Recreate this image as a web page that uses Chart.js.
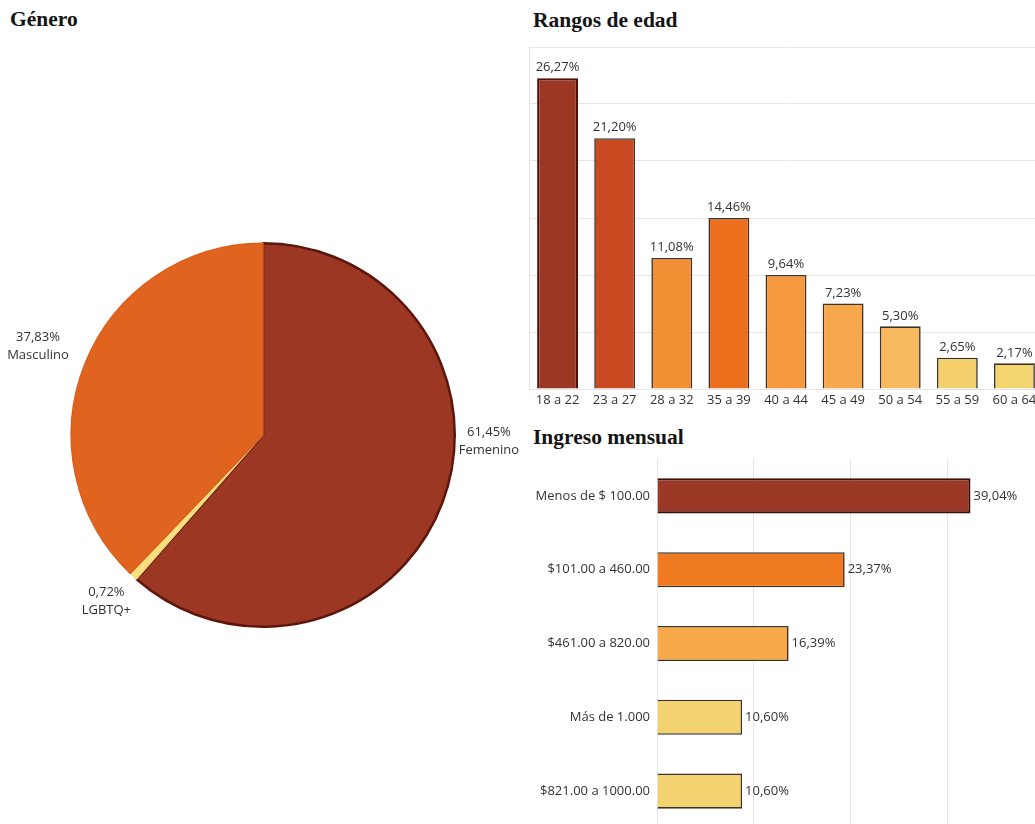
<!DOCTYPE html>
<html lang="es">
<head>
<meta charset="utf-8">
<title>Perfil de encuestados</title>
<script src="https://cdn.jsdelivr.net/npm/chart.js@4.4.1/dist/chart.umd.min.js"></script>
<style>
  html, body { margin: 0; padding: 0; width: 1035px; height: 824px; overflow: hidden; background: #fff; }
  .titulo { position: absolute; font-family: "Liberation Serif", "DejaVu Serif", serif; font-weight: bold;
            font-size: 21.5px; line-height: 22px; color: #141414; white-space: nowrap; }
  canvas { position: absolute; display: block; }
</style>
</head>
<body>
<div class="titulo" style="left:10px; top:8px;">Género</div>
<div class="titulo" style="left:533px; top:9px;">Rangos de edad</div>
<div class="titulo" style="left:533px; top:426px;">Ingreso mensual</div>

<canvas id="genero" width="526" height="790" style="left:0px; top:40px;"></canvas>
<canvas id="edad" width="514" height="367" style="left:529px; top:42px;"></canvas>
<canvas id="ingreso" width="514" height="372" style="left:530px; top:456px;"></canvas>

<script>
// ---- Género ----
const generoLabels = ['Femenino', 'LGBTQ+', 'Masculino'];
const generoValues = [61.45, 0.72, 37.83];
const generoColors = ['#9b3723', '#f7df7e', '#e06320'];
const generoBorders = ['#5e160c', '#f2d774', '#d95e1c'];

// ---- Rangos de edad ----
const edadLabels = ['18 a 22', '23 a 27', '28 a 32', '35 a 39', '40 a 44', '45 a 49', '50 a 54', '55 a 59', '60 a 64'];
const edadValues = [26.27, 21.20, 11.08, 14.46, 9.64, 7.23, 5.30, 2.65, 2.17];
const edadColors = ['#9b3723', '#c94a21', '#f39036', '#ec6f1e', '#f4993e', '#f7a84d', '#f8b85d', '#f4d06c', '#f3d570'];

// ---- Ingreso mensual ----
const ingresoLabels = ['Menos de $ 100.00', '$101.00 a 460.00', '$461.00 a 820.00', 'Más de 1.000', '$821.00 a 1000.00'];
const ingresoValues = [39.04, 23.37, 16.39, 10.60, 10.60];
const ingresoColors = ['#9c3826', '#f07a22', '#f8a94a', '#f3d36f', '#f3d36f'];

// Gridlines follow whole-response steps of the survey sample
const totalRespuestas = 415;
const edadPaso = 20, edadMaxResp = 120;
const ingresoPaso = 50, ingresoMaxResp = 200;

const FONT = '"Open Sans", "DejaVu Sans", sans-serif';
const TEXT = '#333333';
const fmt = v => v.toFixed(2).replace('.', ',') + '%';

Chart.defaults.font.family = FONT;
Chart.defaults.color = TEXT;

const pct = r => r / totalRespuestas * 100;
const fixedTicks = (paso, max) => scale => {
  const t = [];
  for (let r = 0; r <= max; r += paso) t.push({ value: pct(r) });
  scale.ticks = t;
};

// value labels next to bars
const barLabels = {
  id: 'barLabels',
  afterDatasetsDraw(chart) {
    const ctx = chart.ctx;
    const horizontal = chart.options.indexAxis === 'y';
    const meta = chart.getDatasetMeta(0);
    const data = chart.data.datasets[0].data;
    ctx.save();
    ctx.font = '13px ' + FONT;
    ctx.fillStyle = TEXT;
    meta.data.forEach((bar, i) => {
      if (horizontal) {
        ctx.textAlign = 'left'; ctx.textBaseline = 'middle';
        ctx.fillText(fmt(data[i]), bar.x + 3, bar.y);
      } else {
        ctx.textAlign = 'center'; ctx.textBaseline = 'bottom';
        ctx.fillText(fmt(data[i]), bar.x, bar.y - 4);
      }
    });
    ctx.restore();
  }
};

// slice labels outside the pie
const pieOffsets = [[9, -75], [0, -5], [-10, -2]];
const pieLabels = {
  id: 'pieLabels',
  afterDatasetsDraw(chart) {
    const ctx = chart.ctx;
    const meta = chart.getDatasetMeta(0);
    ctx.save();
    ctx.font = '13px ' + FONT;
    ctx.fillStyle = TEXT;
    ctx.textAlign = 'center';
    ctx.textBaseline = 'middle';
    meta.data.forEach((arc, i) => {
      const mid = (arc.startAngle + arc.endAngle) / 2;
      const rr = arc.outerRadius + 40;
      const x = arc.x + rr * Math.cos(mid) + pieOffsets[i][0];
      const y = arc.y + rr * Math.sin(mid) + pieOffsets[i][1];
      ctx.fillText(fmt(generoValues[i]), x, y - 9);
      ctx.fillText(generoLabels[i], x, y + 9);
    });
    ctx.restore();
  }
};

new Chart(document.getElementById('genero'), {
  type: 'pie',
  data: {
    labels: generoLabels,
    datasets: [{ data: generoValues, backgroundColor: generoColors, borderColor: generoBorders, borderWidth: [2.5, 1, 1.5] }]
  },
  options: {
    responsive: false, animation: false, devicePixelRatio: 1,
    layout: { padding: 70 },
    plugins: { legend: { display: false }, tooltip: { enabled: false } }
  },
  plugins: [pieLabels]
});

new Chart(document.getElementById('edad'), {
  type: 'bar',
  data: {
    labels: edadLabels,
    datasets: [{
      data: edadValues, backgroundColor: edadColors,
      borderColor: edadColors.map((c, i) => i === 0 ? '#4f1208' : '#3e3128'),
      borderWidth: edadColors.map((c, i) => i === 0 ? 2.2 : 1.6),
      categoryPercentage: 1, barPercentage: 0.716
    }]
  },
  options: {
    responsive: false, animation: false, devicePixelRatio: 1,
    layout: { padding: { top: 5, left: 0, right: 0, bottom: 0 } },
    plugins: { legend: { display: false }, tooltip: { enabled: false } },
    scales: {
      x: {
        afterFit(scale) { scale.height = 20; scale.paddingLeft = 0; scale.paddingRight = 0; },
        grid: { display: false, drawTicks: false },
        border: { display: false },
        ticks: { font: { size: 13 }, color: TEXT, padding: 3, maxRotation: 0, autoSkip: false }
      },
      y: {
        min: 0, max: pct(edadMaxResp),
        afterBuildTicks: fixedTicks(edadPaso, edadMaxResp),
        afterFit(scale) { scale.width = 0; scale.paddingTop = 0; scale.paddingBottom = 0; },
        ticks: { display: false },
        grid: { color: '#e6e6e6', drawTicks: false, lineWidth: 1 },
        border: { display: true, color: '#e3e3e3' }
      }
    }
  },
  plugins: [barLabels]
});

new Chart(document.getElementById('ingreso'), {
  type: 'bar',
  data: {
    labels: ingresoLabels,
    datasets: [{
      data: ingresoValues, backgroundColor: ingresoColors,
      borderColor: ingresoColors.map((c, i) => i === 0 ? '#3d0f07' : '#3e3128'),
      borderWidth: ingresoColors.map((c, i) => i === 0 ? 2.2 : 1.6),
      categoryPercentage: 1, barPercentage: 0.476
    }]
  },
  options: {
    indexAxis: 'y',
    responsive: false, animation: false, devicePixelRatio: 1,
    layout: { padding: { top: 3, left: 0, right: 0, bottom: 0 } },
    plugins: { legend: { display: false }, tooltip: { enabled: false } },
    scales: {
      x: {
        min: 0, max: pct(ingresoMaxResp),
        afterBuildTicks: fixedTicks(ingresoPaso, ingresoMaxResp),
        afterFit(scale) { scale.height = 0; scale.paddingLeft = 0; scale.paddingRight = 0; },
        ticks: { display: false },
        grid: { color: '#e6e6e6', drawTicks: false },
        border: { display: false }
      },
      y: {
        afterFit(scale) { scale.width = 127; scale.paddingTop = 0; scale.paddingBottom = 0; },
        grid: { display: false, drawTicks: false },
        border: { display: false },
        ticks: { font: { size: 13 }, color: TEXT, padding: 7 }
      }
    }
  },
  plugins: [barLabels]
});
</script>
</body>
</html>
